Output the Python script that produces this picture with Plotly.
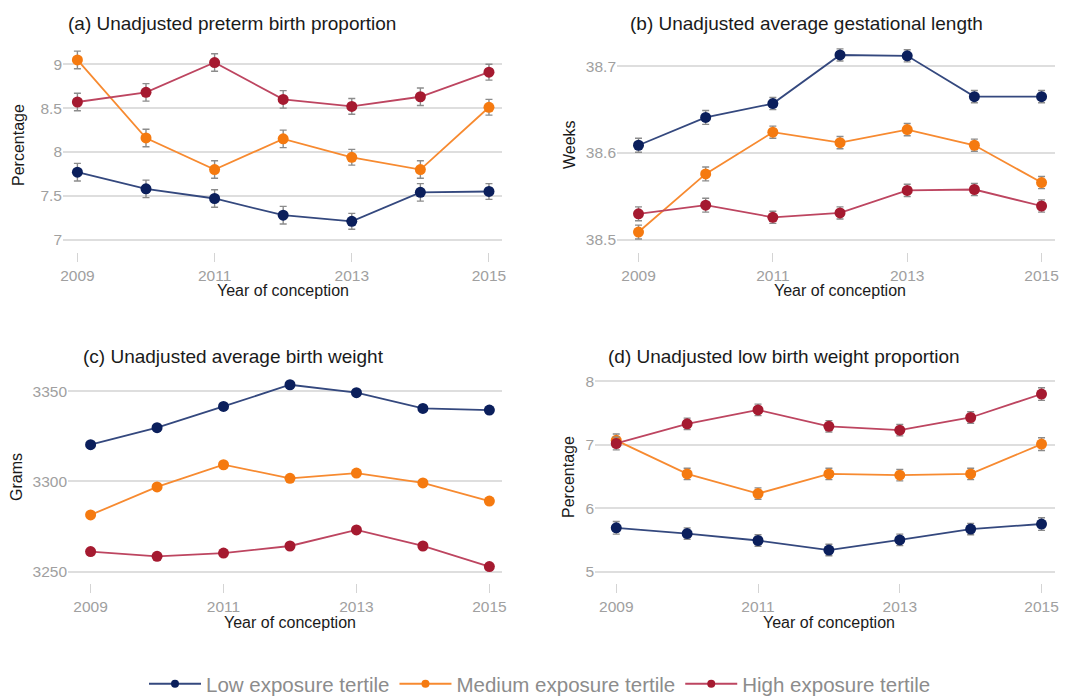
import plotly.graph_objects as go

W, H = 1080, 696

years = [2009, 2010, 2011, 2012, 2013, 2014, 2015]
x_ticks = [2009, 2011, 2013, 2015]
series_names = ["Low exposure tertile", "Medium exposure tertile", "High exposure tertile"]

# (a) Unadjusted preterm birth proportion (%)
a_low = [7.77, 7.58, 7.47, 7.28, 7.21, 7.54, 7.55]
a_med = [9.05, 8.16, 7.80, 8.15, 7.94, 7.80, 8.51]
a_high = [8.57, 8.68, 9.02, 8.60, 8.52, 8.63, 8.91]
a_err = [0.10, 0.10, 0.10, 0.10, 0.09, 0.10, 0.09]

# (b) Unadjusted average gestational length (weeks)
b_low = [38.609, 38.641, 38.657, 38.713, 38.712, 38.665, 38.665]
b_med = [38.509, 38.576, 38.624, 38.612, 38.627, 38.609, 38.566]
b_high = [38.530, 38.540, 38.526, 38.531, 38.557, 38.558, 38.539]
b_err = [0.008, 0.008, 0.007, 0.007, 0.007, 0.007, 0.007]

# (c) Unadjusted average birth weight (grams)
c_low = [3320.3, 3329.7, 3341.5, 3353.5, 3349.1, 3340.4, 3339.5]
c_med = [3281.4, 3296.9, 3309.2, 3301.7, 3304.6, 3299.1, 3289.1]
c_high = [3261.1, 3258.5, 3260.3, 3264.2, 3273.1, 3264.2, 3252.8]
c_err = [1.6, 1.6, 1.5, 1.5, 1.5, 1.5, 1.5]

# (d) Unadjusted low birth weight proportion (%)
d_low = [5.69, 5.60, 5.49, 5.34, 5.50, 5.67, 5.75]
d_med = [7.07, 6.54, 6.23, 6.54, 6.52, 6.54, 7.01]
d_high = [7.02, 7.33, 7.55, 7.29, 7.23, 7.43, 7.80]
d_err = [0.10, 0.09, 0.09, 0.09, 0.09, 0.09, 0.10]

marker_colors = ["#0b1f5c", "#f57a10", "#a51a30"]
line_colors = ["#34487e", "#f78a30", "#bd4560"]

panels = [
    dict(key="", title="(a) Unadjusted preterm birth proportion", ytitle="Percentage",
         data=[a_low, a_med, a_high], err=a_err, yticks=[7, 7.5, 8, 8.5, 9], yticktext=["7", "7.5", "8", "8.5", "9"],
         px=(63, 502), py=(45, 252), yrange=[6.86, 9.22], xrange=[2008.79, 2015.19],
         tpos=(66, 24), xt=(283, 290), yt=(18, 145)),
    dict(key="2", title="(b) Unadjusted average gestational length", ytitle="Weeks",
         data=[b_low, b_med, b_high], err=b_err, yticks=[38.5, 38.6, 38.7], yticktext=["38.5", "38.6", "38.7"],
         px=(617, 1055), py=(45, 252), yrange=[38.486, 38.7245], xrange=[2008.68, 2015.2],
         tpos=(628, 24), xt=(840, 290), yt=(569, 145)),
    dict(key="3", title="(c) Unadjusted average birth weight", ytitle="Grams",
         data=[c_low, c_med, c_high], err=c_err, yticks=[3250, 3300, 3350], yticktext=["3250", "3300", "3350"],
         px=(68, 502), py=(375, 583), yrange=[3243.7, 3358.9], xrange=[2008.66, 2015.19],
         tpos=(81, 356), xt=(290, 622), yt=(17, 477)),
    dict(key="4", title="(d) Unadjusted low birth weight proportion", ytitle="Percentage",
         data=[d_low, d_med, d_high], err=d_err, yticks=[5, 6, 7, 8], yticktext=["5", "6", "7", "8"],
         px=(595, 1055), py=(375, 583), yrange=[4.82, 8.10], xrange=[2008.7, 2015.19],
         tpos=(606, 356), xt=(829, 622), yt=(569, 477)),
]

fig = go.Figure()
annotations = []
FONT = "Liberation Sans, Arial, sans-serif"

for p in panels:
    xa = "x" + p["key"]
    ya = "y" + p["key"]
    for i, vals in enumerate(p["data"]):
        fig.add_trace(go.Scatter(
            x=years, y=vals, xaxis=xa, yaxis=ya, mode="lines+markers",
            name=series_names[i], showlegend=False,
            line=dict(color=line_colors[i], width=1.8),
            marker=dict(color=marker_colors[i], size=11),
            error_y=dict(type="data", array=p["err"], visible=True,
                         color="#8c8c8c", thickness=1.4, width=3.5),
        ))
    xl = "xaxis" + p["key"]
    yl = "yaxis" + p["key"]
    fig.layout[xl] = dict(
        domain=[p["px"][0] / W, p["px"][1] / W], anchor=ya, range=p["xrange"],
        tickvals=x_ticks, ticktext=[str(t) for t in x_ticks], automargin=False,
        showgrid=False, zeroline=False, showline=False,
        ticks="outside", ticklen=9, tickwidth=1.2, tickcolor="#d4d4d4",
        tickfont=dict(family=FONT, size=15.5, color="#a0a0a0"),
    )
    fig.layout[yl] = dict(
        domain=[1 - p["py"][1] / H, 1 - p["py"][0] / H], anchor=xa, range=p["yrange"],
        tickvals=p["yticks"], ticktext=p["yticktext"], automargin=False,
        showgrid=True, gridcolor="#dedede", gridwidth=1.5, zeroline=False, showline=False,
        ticks="", tickfont=dict(family=FONT, size=15.5, color="#a0a0a0"),
    )
    annotations.append(dict(text=p["title"], x=p["tpos"][0] / W, y=1 - p["tpos"][1] / H,
                            xref="paper", yref="paper", xanchor="left", yanchor="middle",
                            showarrow=False, font=dict(family=FONT, size=19, color="#1a1a1a")))
    annotations.append(dict(text="Year of conception", x=p["xt"][0] / W, y=1 - p["xt"][1] / H,
                            xref="paper", yref="paper", xanchor="center", yanchor="middle",
                            showarrow=False, font=dict(family=FONT, size=16, color="#1a1a1a")))
    annotations.append(dict(text=p["ytitle"], x=p["yt"][0] / W, y=1 - p["yt"][1] / H,
                            xref="paper", yref="paper", xanchor="center", yanchor="middle",
                            textangle=-90, showarrow=False,
                            font=dict(family=FONT, size=16, color="#1a1a1a")))

# legend entries
for i in range(3):
    fig.add_trace(go.Scatter(
        x=[None], y=[None], mode="lines+markers", name=series_names[i], showlegend=True,
        line=dict(color=line_colors[i], width=2), marker=dict(color=marker_colors[i], size=8),
    ))

fig.update_layout(
    template="none",
    width=W, height=H, margin=dict(l=0, r=0, t=0, b=0, autoexpand=False),
    paper_bgcolor="white", plot_bgcolor="white",
    annotations=annotations,
    showlegend=True,
    legend=dict(orientation="h", x=0.5, xanchor="center", xref="container",
                y=1 - 664 / H, yanchor="top", yref="container",
                font=dict(family=FONT, size=20.5, color="#8c8c8c"), itemwidth=52,
                bgcolor="rgba(0,0,0,0)", borderwidth=0),
)

fig.write_html("out.html", config={"displayModeBar": False},
               post_script="document.body.style.margin='0';document.body.style.overflow='hidden';")
